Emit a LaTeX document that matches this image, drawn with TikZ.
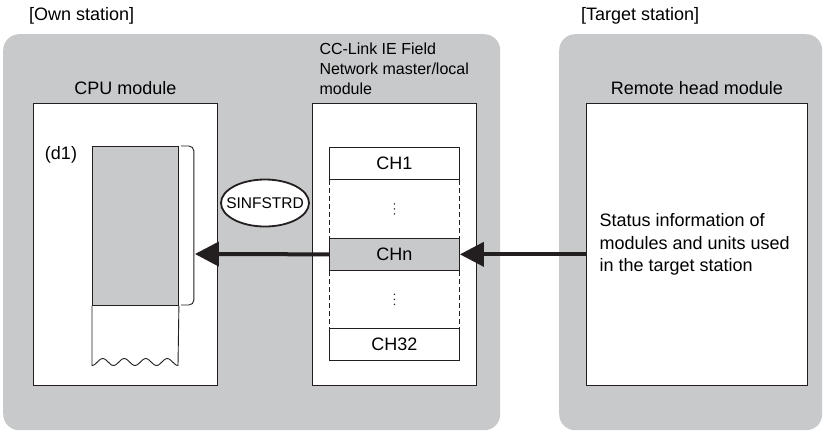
\documentclass[tikz,border=0pt]{standalone}
\usepackage{fontspec}
\setmainfont{Liberation Sans}
\usetikzlibrary{positioning,arrows.meta,calc,shapes.geometric}
\definecolor{panelgray}{RGB}{200,201,203}
\definecolor{inkgray}{RGB}{35,31,32}

\begin{document}
\begin{tikzpicture}[x=1pt, y=-1pt, font=\fontsize{18}{22.5}\selectfont,
  panel/.style={fill=panelgray, rounded corners=16pt, inner sep=0pt, anchor=north west},
  unitbox/.style={draw=inkgray, line width=0.9pt, fill=white, inner sep=0pt, anchor=north west},
  chbox/.style={draw=inkgray, line width=0.9pt, fill=white, minimum width=130pt, minimum height=32pt, inner sep=0pt},
  chdash/.style={draw=inkgray, line width=0.9pt, dash pattern=on 5pt off 3pt},
  flow/.style={draw=inkgray, line width=4pt, -{Triangle[length=24pt,width=24pt]}}]
  \useasboundingbox (0,0) rectangle (824,432);

  % stations
  \node[panel, minimum width=497pt, minimum height=396pt] (own) at (3,34) {};
  \node[panel, minimum width=263pt, minimum height=396pt] (target) at (559,34) {};
  \node[anchor=west] (ownlabel) at (25.5,16) {[Own station]};
  \node[anchor=west] (targetlabel) at (577.5,16) {[Target station]};

  % modules
  \node[unitbox, minimum width=184pt, minimum height=282pt] (cpu) at (33,103) {};
  \node[above=5pt of cpu] (cpulabel) {CPU module};
  \node[unitbox, minimum width=164pt, minimum height=282pt] (master) at (312,103) {};
  \node[above right=5pt and 4pt of master.north west, align=left,
        font=\fontsize{16}{20}\selectfont] (masterlabel)
    {CC-Link IE Field\\Network master/local\\module};
  \node[unitbox, minimum width=221pt, minimum height=282pt] (remote) at (586,103) {};
  \node[above=5pt of remote] (remotelabel) {Remote head module};
  \node[anchor=north west, align=left] (status) at (596,210)
    {Status information of\\modules and units used\\in the target station};

  % device area (d1)
  \node[unitbox, fill=panelgray, minimum width=86pt, minimum height=159pt] (stack) at (92,146) {};
  \draw[inkgray, line width=0.9pt] (stack.south west)
    -- plot[smooth, domain=92:178, samples=49] (\x,{362+3.5*cos((\x-92)/21.5*360)})
    -- (stack.south east);
  \draw[inkgray, line width=0.9pt, rounded corners=5pt]
    ([xshift=2pt]stack.north east) -- ++(13,0) -- ++(0,159) -- ++(-13,0);
  \coordinate (bracket) at ([xshift=16pt]stack.east |- 0,254);
  \node (d1) at (61,155) {(d1)};
  \node[ellipse, draw=inkgray, line width=1.8pt, fill=white, minimum width=88pt,
        minimum height=47pt, inner sep=0pt, font=\fontsize{15.5}{18}\selectfont] (sinf)
    at (265,203) {\makebox[0pt]{SINFSTRD}};

  % channels
  \node[chbox, anchor=north west] (ch1) at (329,147) {CH1};
  \node[chbox, fill=panelgray, below=58pt of ch1] (chn) {CHn};
  \node[chbox, below=57pt of chn] (ch32) {CH32};
  \draw[chdash] (ch1.south west) -- (chn.north west) (ch1.south east) -- (chn.north east)
    (chn.south west) -- (ch32.north west) (chn.south east) -- (ch32.north east);
  \coordinate (dotsa) at ($(ch1.south)!0.5!(chn.north)$);
  \coordinate (dotsb) at ($(chn.south)!0.5!(ch32.north)$);
  \foreach \d in {-5,0,5} {
    \fill[inkgray] ($(dotsa)+(0,\d)$) circle (0.8pt);
    \fill[inkgray] ($(dotsb)+(0,\d)$) circle (0.8pt);
  }

  % transfers
  \draw[flow] (remote.west |- chn.east) -- (chn.east);
  \draw[flow] (chn.west) -- (bracket);
\end{tikzpicture}
\end{document}
